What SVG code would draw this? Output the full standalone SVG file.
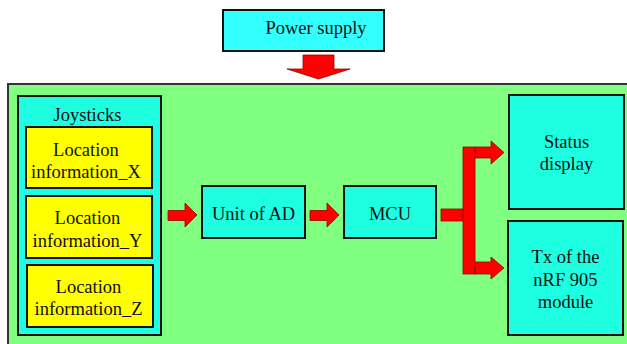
<svg xmlns="http://www.w3.org/2000/svg" width="627" height="344" viewBox="0 0 627 344">
<style>
text{font-size:18.5px;fill:#111;text-anchor:middle}
.box{stroke:#111;stroke-width:2}
.cy{fill:#1effe2}
.yl{fill:#ffff00}
.arr{fill:#ff0000;stroke:#990000;stroke-width:0.8}
</style>
<rect x="0" y="0" width="627" height="344" fill="#ffffff"/>
<g font-family="Liberation Serif, Times New Roman, Times, DejaVu Serif, serif">
<g id="system">
<rect x="8" y="84" width="630" height="270" fill="#80ff80" stroke="#333" stroke-width="2"/>
</g>
<g id="power">
<rect class="box" x="223" y="10" width="161" height="41" fill="#33ffff"/>
<text x="316" y="34">Power supply</text>
</g>
<g id="joysticks">
<rect class="box cy" x="18" y="96" width="143" height="239"/>
<text x="87.5" y="121">Joysticks</text>
</g>
<g id="locx">
<rect class="box yl" x="26" y="127" width="126" height="61"/>
<text x="86" y="156">Location</text>
<text x="86" y="178">information_X</text>
</g>
<g id="locy">
<rect class="box yl" x="26" y="196" width="126" height="62"/>
<text x="87.5" y="224">Location</text>
<text x="87.5" y="247">information_Y</text>
</g>
<g id="locz">
<rect class="box yl" x="27" y="265" width="126" height="62"/>
<text x="88.5" y="292.5">Location</text>
<text x="88.5" y="315">information_Z</text>
</g>
<g id="ad">
<rect class="box cy" x="202" y="186" width="103" height="52"/>
<text x="253.5" y="219.5">Unit of AD</text>
</g>
<g id="mcu">
<rect class="box cy" x="344" y="186" width="92" height="52"/>
<text x="390" y="219.5">MCU</text>
</g>
<g id="status">
<rect class="box cy" x="509" y="95" width="115" height="114"/>
<text x="566.5" y="147.5">Status</text>
<text x="566.5" y="170">display</text>
</g>
<g id="tx">
<rect class="box cy" x="508" y="221" width="115" height="114"/>
<text x="565.5" y="262.5">Tx of the</text>
<text x="565.5" y="285.5">nRF 905</text>
<text x="565.5" y="308">module</text>
</g>
<g id="connectors">
<polygon class="arr" points="303,55 334,55 334,69 350,69 318.5,79 287,69 303,69"/>
<polygon class="arr" points="168,210.5 185,210.5 185,203 197,215 185,227 185,220.5 168,220.5"/>
<polygon class="arr" points="310,210.5 327,210.5 327,203 339,215 327,227 327,220.5 310,220.5"/>
<rect class="arr" x="441" y="209" width="22" height="12"/>
<rect class="arr" x="463" y="147" width="12" height="127"/>
<polygon class="arr" points="475,147 491,147 491,141 504,152.5 491,164 491,158 475,158"/>
<polygon class="arr" points="475,262 491,262 491,257 504,268 491,279 491,274 475,274"/>
</g>
</g>
</svg>
